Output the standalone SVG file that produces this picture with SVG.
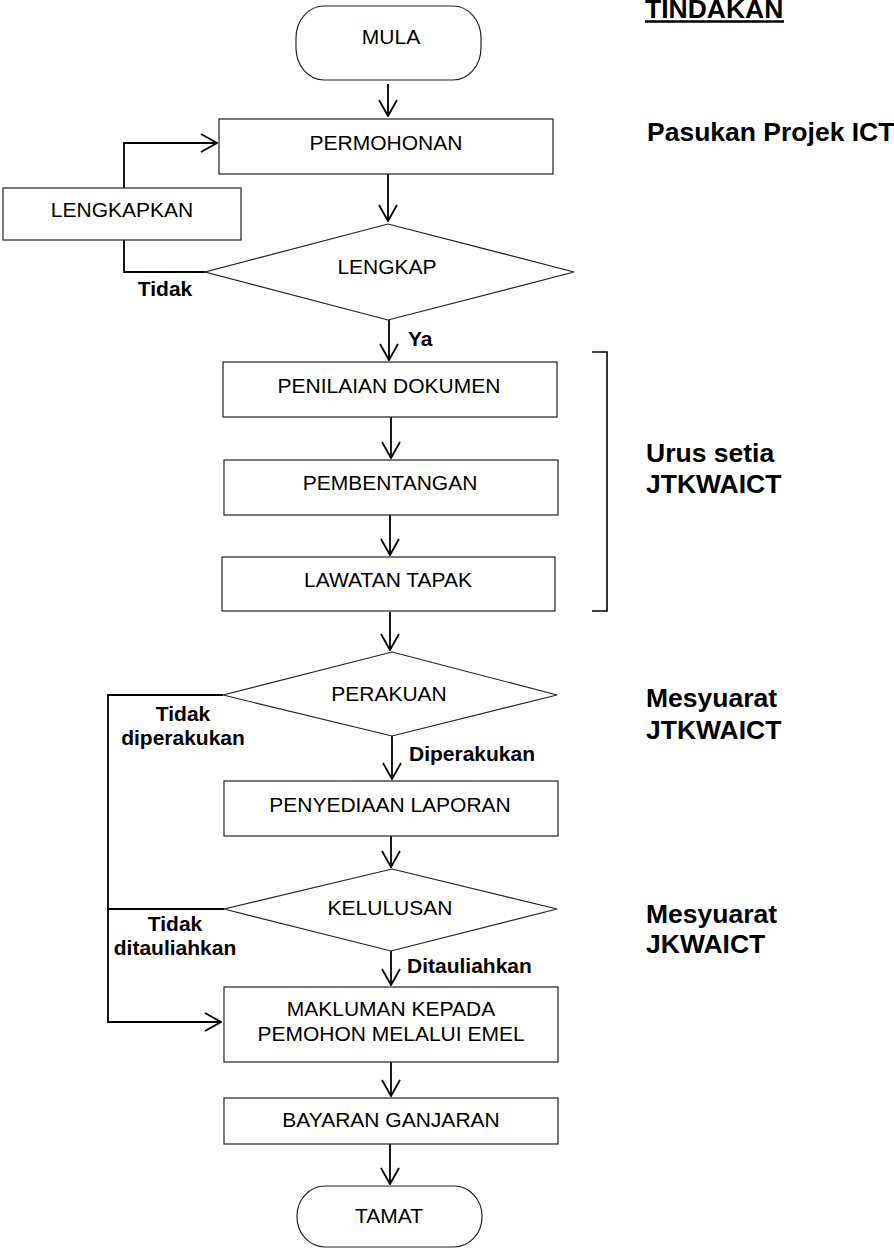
<svg xmlns="http://www.w3.org/2000/svg" width="894" height="1248" viewBox="0 0 894 1248">
<style>
.box{fill:#fff;stroke:#222;stroke-width:1.2}
.t{font-family:"Liberation Sans",Arial,sans-serif;font-size:21px;fill:#000;text-anchor:middle}
.lb{font-family:"Liberation Sans",Arial,sans-serif;font-size:21px;font-weight:bold;fill:#000}
.rl{font-family:"Liberation Sans",Arial,sans-serif;font-size:26.5px;font-weight:bold;fill:#000}
.c{fill:none;stroke:#000;stroke-width:1.8}
</style>
<defs>
<marker id="ah" markerUnits="userSpaceOnUse" viewBox="0 0 18 20" refX="17" refY="10" markerWidth="18" markerHeight="20" orient="auto">
<path d="M1,1 L17,10 L1,19" fill="none" stroke="#000" stroke-width="1.8"/>
</marker>
</defs>
<rect width="894" height="1248" fill="#fff"/>

<g id="connectors">
<path class="c" d="M388,84 V116" marker-end="url(#ah)"/>
<path class="c" d="M388,174 V221" marker-end="url(#ah)"/>
<path class="c" d="M206,272 H124 V240"/>
<path class="c" d="M124,188 V143 H217" marker-end="url(#ah)"/>
<path class="c" d="M389,320 V360" marker-end="url(#ah)"/>
<path class="c" d="M391,417 V458" marker-end="url(#ah)"/>
<path class="c" d="M390,515 V555" marker-end="url(#ah)"/>
<path class="c" d="M390,612 V650" marker-end="url(#ah)"/>
<path class="c" d="M392,736 V779" marker-end="url(#ah)"/>
<path class="c" d="M391,836 V867" marker-end="url(#ah)"/>
<path class="c" d="M391,951 V985" marker-end="url(#ah)"/>
<path class="c" d="M391,1062 V1096" marker-end="url(#ah)"/>
<path class="c" d="M390,1144 V1184" marker-end="url(#ah)"/>
<path class="c" d="M223,695 H108 V1022 H221" marker-end="url(#ah)"/>
<path class="c" d="M224,909 H108"/>
<path class="c" stroke-width="2.6" d="M108,1022 H166"/>
</g>

<g id="mula">
<rect class="box" x="296" y="6" width="185" height="74" rx="28" ry="32"/>
<text class="t" x="391" y="44">MULA</text>
</g>
<g id="permohonan">
<rect class="box" x="219" y="119" width="334" height="55"/>
<text class="t" x="386" y="150">PERMOHONAN</text>
</g>
<g id="lengkapkan">
<rect class="box" x="3" y="188" width="238" height="52"/>
<text class="t" x="122" y="217">LENGKAPKAN</text>
</g>
<g id="lengkap">
<polygon class="box" points="388,224 574,272 388,320 205,272"/>
<text class="t" x="387" y="274">LENGKAP</text>
</g>
<g id="penilaian">
<rect class="box" x="223" y="362" width="334" height="55"/>
<text class="t" x="389" y="393">PENILAIAN DOKUMEN</text>
</g>
<g id="pembentangan">
<rect class="box" x="224" y="460" width="334" height="55"/>
<text class="t" x="390" y="490">PEMBENTANGAN</text>
</g>
<g id="lawatan">
<rect class="box" x="222" y="557" width="333" height="54"/>
<text class="t" x="388" y="587">LAWATAN TAPAK</text>
</g>
<g id="perakuan">
<polygon class="box" points="392,652 557,695 392,736 223,695"/>
<text class="t" x="389" y="701">PERAKUAN</text>
</g>
<g id="penyediaan">
<rect class="box" x="224" y="781" width="334" height="55"/>
<text class="t" x="390" y="812">PENYEDIAAN LAPORAN</text>
</g>
<g id="kelulusan">
<polygon class="box" points="392,869 557,909 391,951 224,909"/>
<text class="t" x="390" y="915">KELULUSAN</text>
</g>
<g id="makluman">
<rect class="box" x="224" y="987" width="334" height="75"/>
<text class="t" x="391" y="1016">MAKLUMAN KEPADA</text>
<text class="t" x="391" y="1041">PEMOHON MELALUI EMEL</text>
</g>
<g id="bayaran">
<rect class="box" x="224" y="1098" width="334" height="46"/>
<text class="t" x="391" y="1127">BAYARAN GANJARAN</text>
</g>
<g id="tamat">
<rect class="box" x="297" y="1186" width="185" height="61" rx="28" ry="30"/>
<text class="t" x="389" y="1223">TAMAT</text>
</g>

<g id="branch-labels">
<text class="lb" x="165" y="296" text-anchor="middle">Tidak</text>
<text class="lb" x="408" y="346">Ya</text>
<text class="lb" x="183" y="721" text-anchor="middle">Tidak</text>
<text class="lb" x="183" y="745" text-anchor="middle">diperakukan</text>
<text class="lb" x="409" y="761">Diperakukan</text>
<text class="lb" x="175" y="931" text-anchor="middle">Tidak</text>
<text class="lb" x="175" y="955" text-anchor="middle">ditauliahkan</text>
<text class="lb" x="407" y="973">Ditauliahkan</text>
</g>

<g id="tindakan">
<text class="rl" x="645" y="18">TINDAKAN</text>
<line x1="645" y1="21.5" x2="784" y2="21.5" stroke="#000" stroke-width="2.5"/>
<text class="rl" x="647" y="141">Pasukan Projek ICT</text>
<path d="M592,352 H607 V611 H592" fill="none" stroke="#000" stroke-width="1.6"/>
<text class="rl" x="646" y="462">Urus setia</text>
<text class="rl" x="646" y="493">JTKWAICT</text>
<text class="rl" x="646" y="707">Mesyuarat</text>
<text class="rl" x="646" y="739">JTKWAICT</text>
<text class="rl" x="646" y="923">Mesyuarat</text>
<text class="rl" x="646" y="953">JKWAICT</text>
</g>
</svg>
